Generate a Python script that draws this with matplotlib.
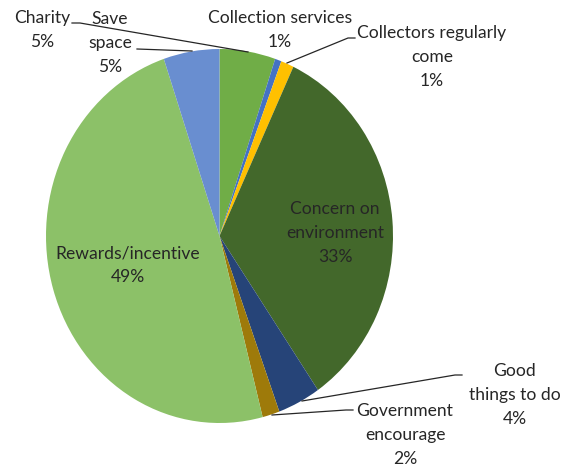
import matplotlib
matplotlib.use("Agg")
import matplotlib.pyplot as plt

categories = ["Charity", "Collection services", "Collectors regularly come",
              "Concern on environment", "Good things to do", "Government encourage",
              "Rewards/incentive", "Save space"]
values = [5.2, 0.6, 1.2, 33.4, 4.0, 1.6, 48.8, 5.2]
colors = ["#70AD47", "#4472C4", "#FFC000", "#43682B", "#264478", "#9E7A0A",
          "#8CC168", "#698ED0"]
label_text = ["Charity\n5%", "Collection services\n1%", "Collectors regularly\ncome\n1%",
              "Concern on\nenvironment\n33%", "Good\nthings to do\n4%",
              "Government\nencourage\n2%", "Rewards/incentive\n49%", "Save\nspace\n5%"]

W, H = 566, 470
fig = plt.figure(figsize=(W / 100, H / 100), dpi=100)

# pie axes (ellipse as in the reference)
left, right, top, bottom = 46, 393, 49, 423
axp = fig.add_axes([left / W, 1 - bottom / H, (right - left) / W, (bottom - top) / H])
axp.pie(values, colors=colors, startangle=90, counterclock=False,
        wedgeprops=dict(linewidth=0))
axp.set_aspect('auto')
axp.set_xlim(-1, 1)
axp.set_ylim(-1, 1)
axp.axis('off')

# overlay for labels (pixel coordinates)
ax = fig.add_axes([0, 0, 1, 1])
ax.set_xlim(0, W)
ax.set_ylim(H, 0)
ax.axis('off')
ax.patch.set_alpha(0)

font = dict(family=['Lato', 'DejaVu Sans'], fontsize=12.6, color='#262626',
            ha='center', va='center', linespacing=1.6)
label_pos = [(42, 30), (280, 30), (432, 57), (335, 233), (515, 395),
             (405, 435), (128, 265), (110, 43)]
for txt, (x, y) in zip(label_text, label_pos):
    ax.text(x, y, txt, **font)

leaders = [
    [(72, 23), (80, 23), (248, 52)],
    [(137, 49), (192, 51)],
    [(355, 38), (348, 38), (287, 63)],
    [(462, 375), (455, 375), (302, 401)],
    [(353, 410), (346, 410), (272, 415)],
]
for pts in leaders:
    xs, ys = zip(*pts)
    ax.plot(xs, ys, color='#262626', lw=0.9)

fig.savefig("out.png", dpi=100)
